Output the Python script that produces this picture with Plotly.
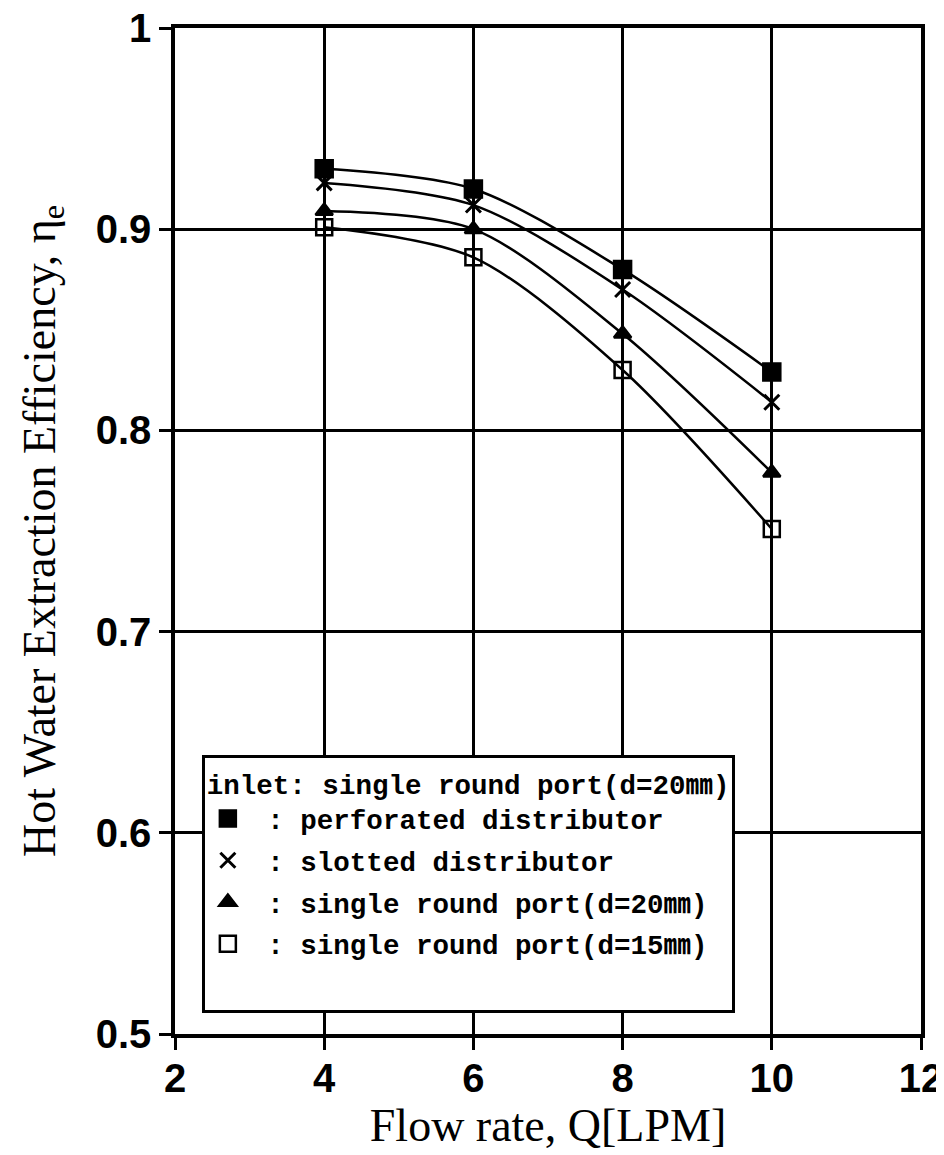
import plotly.graph_objects as go

flow = [4, 6, 8, 10]
perforated = [0.930, 0.920, 0.880, 0.829]
slotted = [0.923, 0.912, 0.870, 0.814]
round20 = [0.909, 0.900, 0.848, 0.779]
round15 = [0.901, 0.886, 0.830, 0.751]

names = [" : perforated distributor", " : slotted distributor",
         " : single round port(d=20㎜)", " : single round port(d=15㎜)"]
series = [perforated, slotted, round20, round15]
symbols = ["square", "x-thin", "triangle-up", "square-open"]
sizes = [17, 15, 15, 16]

x_ticks = [2, 4, 6, 8, 10, 12]
y_ticks = [0.5, 0.6, 0.7, 0.8, 0.9, 1.0]
y_ticktext = ["0.5", "0.6", "0.7", "0.8", "0.9", "1"]

LEG_FONT = "Liberation Mono, Noto Sans CJK KR"

fig = go.Figure()
for ys in series:
    fig.add_trace(go.Scatter(x=flow, y=ys, mode="lines",
                             line=dict(color="black", width=2.5, shape="spline", smoothing=0.85),
                             showlegend=False, hoverinfo="skip"))
for i, (ys, nm, sym, sz) in enumerate(zip(series, names, symbols, sizes)):
    mline = dict(color="black", width=3 if sym == "x-thin" else 2.5)
    fig.add_trace(go.Scatter(x=flow, y=ys, mode="markers", name=nm, legendgroup=f"g{i}",
                             marker=dict(symbol=sym, size=sz, color="black", line=mline)))
# blank legend row for bottom padding of the legend box
fig.add_trace(go.Scatter(x=[None], y=[None], mode="markers", name=" ", legendgroup="pad",
                         marker=dict(size=1, color="white", opacity=0), hoverinfo="skip"))

fig.update_layout(
    width=944, height=1155,
    margin=dict(l=167, r=31, t=20, b=129),
    plot_bgcolor="white", paper_bgcolor="white",
    legend=dict(
        x=0.036, y=0.277, xanchor="left", yanchor="top",
        bgcolor="white", bordercolor="black", borderwidth=3,
        font=dict(family=LEG_FONT, size=27.5, color="black", weight="bold"),
        title=dict(text="inlet: single round port(d=20㎜)",
                   font=dict(family=LEG_FONT, size=27.5, color="black", weight="bold")),
        itemsizing="trace", tracegroupgap=3, itemwidth=36,
    ),
    xaxis=dict(
        range=[2, 12], tickvals=x_ticks, ticktext=[str(v) for v in x_ticks],
        showgrid=True, gridcolor="black", gridwidth=3,
        showline=True, linecolor="black", linewidth=3.5, mirror=True,
        ticks="outside", ticklen=12, tickwidth=2.5, tickcolor="black",
        ticklabelstandoff=-6, ticklabeloverflow="allow", automargin=False,
        tickfont=dict(family="Liberation Sans", size=40, color="black", weight="bold"),
        title=dict(text="Flow rate, Q[LPM]", font=dict(family="Liberation Serif", size=46, color="black"), standoff=0),
        zeroline=False,
    ),
    yaxis=dict(
        range=[0.5, 1.0], tickvals=y_ticks, ticktext=y_ticktext,
        showgrid=True, gridcolor="black", gridwidth=3,
        showline=True, linecolor="black", linewidth=3.5, mirror=True,
        ticks="outside", ticklen=12, tickwidth=2.5, tickcolor="black",
        ticklabeloverflow="allow", automargin=False,
        tickfont=dict(family="Liberation Sans", size=40, color="black", weight="bold"),
        title=dict(text="Hot Water Extraction Efficiency, η<sub>e</sub>",
                   font=dict(family="Liberation Serif", size=46, color="black"), standoff=27),
        zeroline=False,
    ),
)

fig.write_html("out.html")
